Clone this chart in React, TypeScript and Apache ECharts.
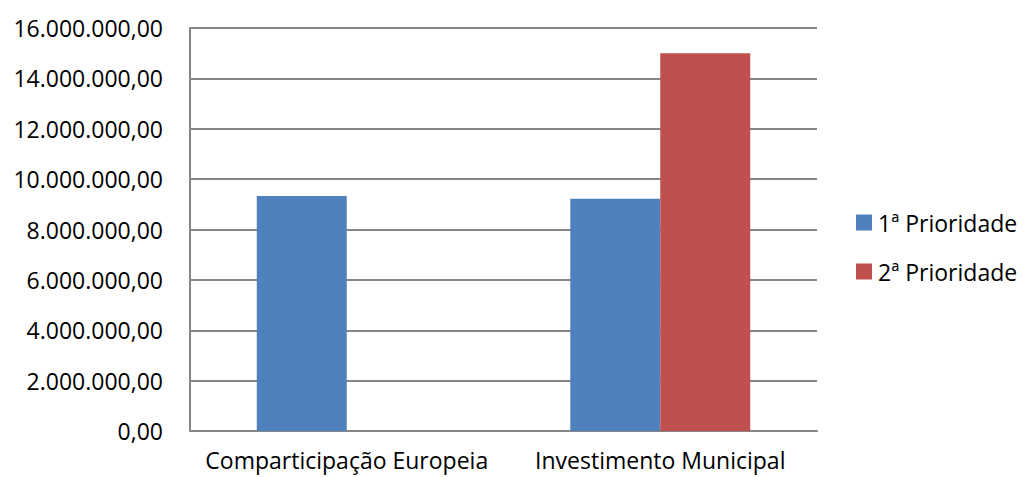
import React, { useEffect, useRef } from "react";
import * as echarts from "echarts";

const categories = ["Comparticipação Europeia", "Investimento Municipal"];
const seriesNames = ["1ª Prioridade", "2ª Prioridade"];
const prioridade1 = [9330000, 9220000];
const prioridade2 = [null, 15000000];
const colors = ["#4F81BD", "#C0504D"];

function fmt(v: number): string {
  const s = Math.round(v).toString();
  const withDots = s.replace(/\B(?=(\d{3})+(?!\d))/g, ".");
  return withDots + ",00";
}

export default function App() {
  const ref = useRef<HTMLDivElement>(null);
  useEffect(() => {
    if (!ref.current) return;
    const chart = echarts.init(ref.current, null, { renderer: "svg" });
    const font = "'Open Sans', sans-serif";
    chart.setOption({
      animation: false,
      textStyle: { fontFamily: font },
      grid: { left: 190, right: 207, top: 28, bottom: 46, containLabel: false },
      legend: {
        orient: "vertical",
        left: 851,
        top: 206,
        itemWidth: 16,
        itemHeight: 16,
        itemGap: 26,
        icon: "rect",
        textStyle: { fontSize: 23, fontFamily: font, color: "#000", padding: [0, 0, 0, 1] },
        data: seriesNames,
      },
      xAxis: {
        type: "category",
        data: categories,
        axisLine: { lineStyle: { color: "#868686", width: 2 } },
        axisTick: { show: false },
        axisLabel: { fontSize: 23, lineHeight: 24, color: "#000", fontFamily: font, margin: 17, interval: 0 },
      },
      yAxis: {
        type: "value",
        min: 0,
        max: 16000000,
        interval: 2000000,
        axisLine: { show: true, lineStyle: { color: "#868686", width: 2 } },
        axisTick: { show: false },
        splitLine: { lineStyle: { color: "#868686", width: 2 } },
        axisLabel: { fontSize: 23, color: "#000", fontFamily: font, margin: 27, formatter: (v: number) => fmt(v) },
      },
      series: [
        { name: seriesNames[0], type: "bar", data: prioridade1, itemStyle: { color: colors[0] }, barGap: "0%", barCategoryGap: "42.6%" },
        { name: seriesNames[1], type: "bar", data: prioridade2, itemStyle: { color: colors[1] }, barGap: "0%", barCategoryGap: "42.6%" },
      ],
    });
    return () => chart.dispose();
  }, []);
  return <div ref={ref} style={{ width: 1024, height: 477, position: "absolute", left: 0, top: 0, background: "#fff" }} />;
}
